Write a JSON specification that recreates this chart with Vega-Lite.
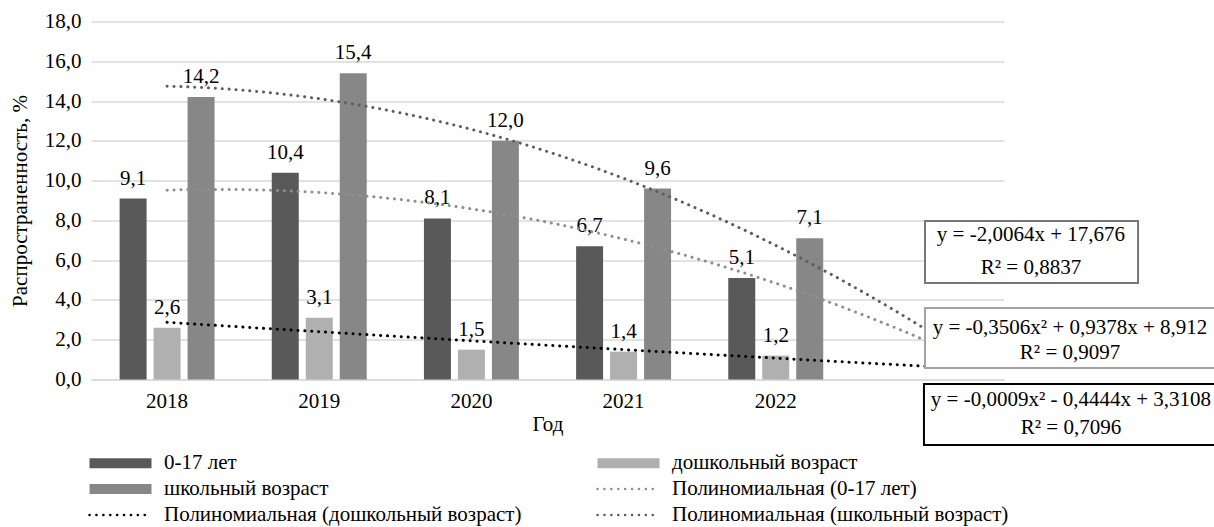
{
  "$schema": "https://vega.github.io/schema/vega-lite/v6.json",
  "autosize": {"type": "none"},
  "padding": {"left": 91, "top": 21.5, "right": 210, "bottom": 147.5},
  "width": 913,
  "height": 358,
  "config": {
    "font": "Liberation Serif",
    "view": {"stroke": null},
    "text": {"font": "Liberation Serif"},
    "axis": {"labelFont": "Liberation Serif", "titleFont": "Liberation Serif"},
    "legend": {"labelFont": "Liberation Serif", "titleFont": "Liberation Serif"},
    "locale": {"number": {"decimal": ",", "thousands": " ", "grouping": [3], "currency": ["", ""]}}
  },
  "datasets": {
    "main": [
      {"year": 2018, "group": "0-17 лет", "trend": "Полиномиальная (0-17 лет)", "value": 9.1},
      {"year": 2018, "group": "дошкольный возраст", "trend": "Полиномиальная (дошкольный возраст)", "value": 2.6},
      {"year": 2018, "group": "школьный возраст", "trend": "Полиномиальная (школьный возраст)", "value": 14.2},
      {"year": 2019, "group": "0-17 лет", "trend": "Полиномиальная (0-17 лет)", "value": 10.4},
      {"year": 2019, "group": "дошкольный возраст", "trend": "Полиномиальная (дошкольный возраст)", "value": 3.1},
      {"year": 2019, "group": "школьный возраст", "trend": "Полиномиальная (школьный возраст)", "value": 15.4},
      {"year": 2020, "group": "0-17 лет", "trend": "Полиномиальная (0-17 лет)", "value": 8.1},
      {"year": 2020, "group": "дошкольный возраст", "trend": "Полиномиальная (дошкольный возраст)", "value": 1.5},
      {"year": 2020, "group": "школьный возраст", "trend": "Полиномиальная (школьный возраст)", "value": 12.0},
      {"year": 2021, "group": "0-17 лет", "trend": "Полиномиальная (0-17 лет)", "value": 6.7},
      {"year": 2021, "group": "дошкольный возраст", "trend": "Полиномиальная (дошкольный возраст)", "value": 1.4},
      {"year": 2021, "group": "школьный возраст", "trend": "Полиномиальная (школьный возраст)", "value": 9.6},
      {"year": 2022, "group": "0-17 лет", "trend": "Полиномиальная (0-17 лет)", "value": 5.1},
      {"year": 2022, "group": "дошкольный возраст", "trend": "Полиномиальная (дошкольный возраст)", "value": 1.2},
      {"year": 2022, "group": "школьный возраст", "trend": "Полиномиальная (школьный возраст)", "value": 7.1}
    ],
    "boxes": [
      {"box": "школьный возраст (линейная)", "x1": 2022.981, "x2": 2024.381, "y1": 7.97, "y2": 4.85},
      {"box": "0-17 лет", "x1": 2022.981, "x2": 2024.95, "y1": 3.595, "y2": 0.578},
      {"box": "дошкольный возраст", "x1": 2022.974, "x2": 2024.95, "y1": -0.226, "y2": -3.293}
    ],
    "equations": [
      {"label": "y = -2,0064x + 17,676", "tx": 2023.677, "ty": 7.265},
      {"label": "R² = 0,8837", "tx": 2023.677, "ty": 5.606},
      {"label": "y = -0,3506x² + 0,9378x + 8,912", "tx": 2023.934, "ty": 2.589},
      {"label": "R² = 0,9097", "tx": 2023.934, "ty": 1.332},
      {"label": "y = -0,0009x² - 0,4444x + 3,3108", "tx": 2023.94, "ty": -1.031},
      {"label": "R² = 0,7096", "tx": 2023.94, "ty": -2.438}
    ]
  },
  "resolve": {"scale": {"x": "independent"}},
  "layer": [
    {
      "data": {"name": "main"},
      "encoding": {
        "x": {
          "field": "year", "type": "ordinal",
          "scale": {"domain": [2018, 2019, 2020, 2021, 2022, 2023], "paddingInner": 0.376, "paddingOuter": 0.188},
          "axis": {
            "title": "Год", "labelExpr": "datum.value == 2023 ? '' : datum.label",
            "labelAngle": 0, "labelFont": "Liberation Serif", "labelFontSize": 21, "labelColor": "#000000", "labelPadding": 11,
            "titleFont": "Liberation Serif", "titleFontSize": 21, "titleFontWeight": "normal", "titleColor": "#000000", "titlePadding": 2,
            "ticks": false, "domainColor": "#d9d9d9", "domainWidth": 1.5, "grid": false
          }
        },
        "xOffset": {
          "field": "group", "type": "nominal",
          "sort": ["0-17 лет", "дошкольный возраст", "школьный возраст"],
          "scale": {"paddingInner": 0.206, "paddingOuter": 0}
        },
        "y": {
          "field": "value", "type": "quantitative",
          "scale": {"domain": [0, 18], "nice": false, "zero": true},
          "axis": {
            "title": "Распространенность, %", "values": [0, 2, 4, 6, 8, 10, 12, 14, 16, 18], "format": ".1f", "labelOverlap": false,
            "labelFont": "Liberation Serif", "labelFontSize": 21, "labelColor": "#000000", "labelPadding": 10,
            "titleFont": "Liberation Serif", "titleFontSize": 21, "titleFontWeight": "normal", "titleColor": "#000000", "titlePadding": 14,
            "ticks": false, "domain": false, "grid": true, "gridColor": "#d9d9d9", "gridWidth": 1.5
          }
        }
      },
      "layer": [
        {
          "mark": {"type": "bar"},
          "encoding": {
            "color": {
              "field": "group", "type": "nominal",
              "scale": {
                "domain": ["0-17 лет", "дошкольный возраст", "школьный возраст", "Полиномиальная (0-17 лет)", "Полиномиальная (дошкольный возраст)", "Полиномиальная (школьный возраст)"],
                "range": ["#595959", "#b0b0b0", "#878787", "#8f8f8f", "#000000", "#5e5e5e"]
              },
              "legend": {
                "title": null, "orient": "none", "legendX": 19, "legendY": 431,
                "direction": "horizontal", "columns": 2, "columnPadding": 70, "rowPadding": 4,
                "symbolSize": 100, "labelOffset": 33, "labelFont": "Liberation Serif", "labelFontSize": 21, "labelColor": "#000000", "labelLimit": 600,
                "encode": {
                  "symbols": {
                    "update": {
                      "shape": {"signal": "datum.index >= 3 ? 'M-6.2,0H6.2' : 'M-6.2,-1H6.2V1H-6.2Z'"},
                      "fill": {"signal": "datum.index >= 3 ? 'transparent' : scale('color', datum.value)"},
                      "stroke": {"signal": "scale('color', datum.value)"},
                      "strokeWidth": {"signal": "datum.index >= 3 ? 2.5 : 0"},
                      "strokeDash": {"signal": "datum.index >= 3 ? [0.1, 6.8] : [1, 0]"},
                      "strokeCap": {"value": "round"},
                      "opacity": {"value": 1},
                      "fillOpacity": {"value": 1},
                      "strokeOpacity": {"value": 1}
                    }
                  }
                }
              }
            }
          }
        },
        {
          "mark": {"type": "text", "font": "Liberation Serif", "baseline": "alphabetic", "dy": -14, "fontSize": 21, "color": "#000000"},
          "encoding": {
            "text": {"field": "value", "type": "quantitative", "format": ".1f"}
          }
        }
      ]
    },
    {
      "layer": [
        {
          "data": {"name": "main"},
          "transform": [
            {"regression": "value", "on": "year", "groupby": ["trend"], "method": "poly", "order": 2, "extent": [2018, 2023]}
          ],
          "mark": {"type": "line", "strokeWidth": 3, "strokeDash": [0.1, 6.8], "strokeCap": "round"},
          "encoding": {
            "x": {"field": "year", "type": "quantitative", "scale": {"domain": [2017.5, 2023.5], "nice": false, "zero": false}, "axis": null},
            "y": {
              "field": "value", "type": "quantitative",
              "axis": {
                "title": "Распространенность, %", "values": [0, 2, 4, 6, 8, 10, 12, 14, 16, 18], "format": ".1f", "labelOverlap": false,
                "labelFont": "Liberation Serif", "labelFontSize": 21, "labelColor": "#000000", "labelPadding": 10,
                "titleFont": "Liberation Serif", "titleFontSize": 21, "titleFontWeight": "normal", "titleColor": "#000000", "titlePadding": 14,
                "ticks": false, "domain": false, "grid": true, "gridColor": "#d9d9d9", "gridWidth": 1.5
              }
            },
            "color": {"field": "trend", "type": "nominal", "legend": null}
          }
        },
        {
          "data": {"name": "boxes"},
          "mark": {"type": "rect", "fill": "#ffffff", "strokeWidth": 2},
          "encoding": {
            "x": {"field": "x1", "type": "quantitative", "scale": {"domain": [2017.5, 2023.5], "nice": false, "zero": false}, "axis": null},
            "x2": {"field": "x2"},
            "y": {
              "field": "y1", "type": "quantitative",
              "axis": {
                "title": "Распространенность, %", "values": [0, 2, 4, 6, 8, 10, 12, 14, 16, 18], "format": ".1f", "labelOverlap": false,
                "labelFont": "Liberation Serif", "labelFontSize": 21, "labelColor": "#000000", "labelPadding": 10,
                "titleFont": "Liberation Serif", "titleFontSize": 21, "titleFontWeight": "normal", "titleColor": "#000000", "titlePadding": 14,
                "ticks": false, "domain": false, "grid": true, "gridColor": "#d9d9d9", "gridWidth": 1.5
              }
            },
            "y2": {"field": "y2"},
            "stroke": {
              "field": "box", "type": "nominal", "legend": null,
              "scale": {"domain": ["школьный возраст (линейная)", "0-17 лет", "дошкольный возраст"], "range": ["#777777", "#a3a3a3", "#000000"]}
            }
          }
        },
        {
          "data": {"name": "equations"},
          "mark": {"type": "text", "font": "Liberation Serif", "fontSize": 21, "color": "#000000", "align": "center", "baseline": "middle"},
          "encoding": {
            "x": {"field": "tx", "type": "quantitative", "scale": {"domain": [2017.5, 2023.5], "nice": false, "zero": false}, "axis": null},
            "y": {
              "field": "ty", "type": "quantitative",
              "axis": {
                "title": "Распространенность, %", "values": [0, 2, 4, 6, 8, 10, 12, 14, 16, 18], "format": ".1f", "labelOverlap": false,
                "labelFont": "Liberation Serif", "labelFontSize": 21, "labelColor": "#000000", "labelPadding": 10,
                "titleFont": "Liberation Serif", "titleFontSize": 21, "titleFontWeight": "normal", "titleColor": "#000000", "titlePadding": 14,
                "ticks": false, "domain": false, "grid": true, "gridColor": "#d9d9d9", "gridWidth": 1.5
              }
            },
            "text": {"field": "label"}
          }
        }
      ]
    }
  ]
}
